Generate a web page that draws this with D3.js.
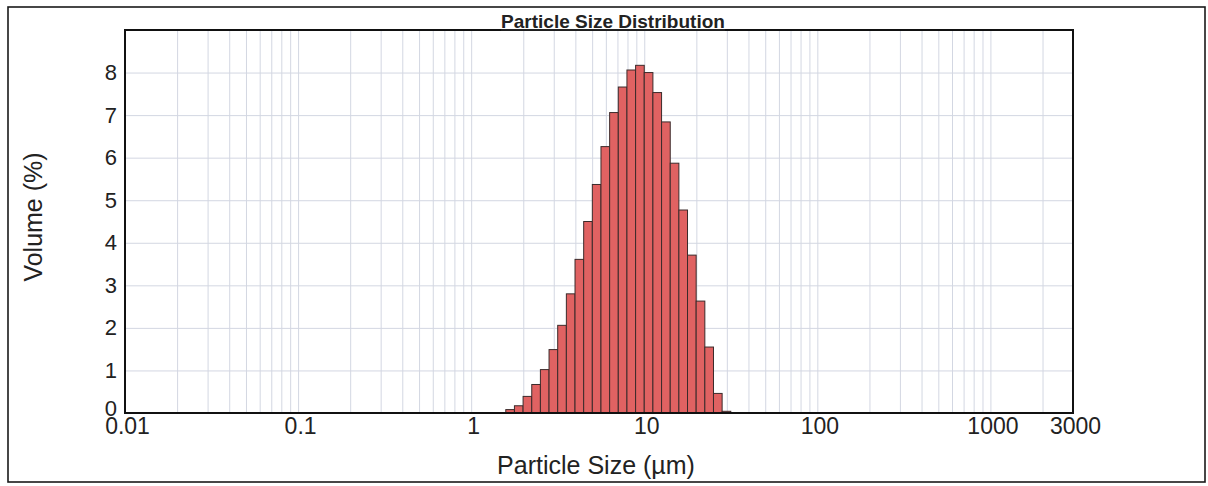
<!DOCTYPE html>
<html>
<head>
<meta charset="utf-8">
<script src="https://cdn.jsdelivr.net/npm/d3@7"></script>
<style>
    body { margin: 0; background: #ffffff; }
    svg { display: block; font-family: "Liberation Sans", Arial, sans-serif; }
</style>
</head>
<body>
<div id="chart"></div>
<script>
// bin edges (µm) and volume % per bin
const binEdges = [1.585, 1.778, 1.995, 2.239, 2.512, 2.818, 3.162, 3.548, 3.981, 4.467,
    5.012, 5.623, 6.310, 7.079, 7.943, 8.913, 10.00, 11.22, 12.59, 14.13,
    15.85, 17.78, 19.95, 22.39, 25.12, 28.18, 31.62];
const volumes = [0.08, 0.17, 0.39, 0.67, 1.02, 1.49, 2.06, 2.80, 3.61, 4.50,
    5.37, 6.26, 7.06, 7.66, 8.06, 8.17, 8.00, 7.53, 6.84, 5.87,
    4.77, 3.71, 2.63, 1.55, 0.46, 0.04];
const xTickValues = [0.01, 0.1, 1, 10, 100, 1000, 3000];
const yTickValues = [0, 1, 2, 3, 4, 5, 6, 7, 8];

const width = 1208;
const height = 486;
const plot = {left: 125, right: 1073, top: 30, bottom: 413};

let svg = d3.select("#chart")
    .append("svg")
    .attr("width", width)
    .attr("height", height);

// outer frame
svg.append("rect")
    .attr("x", 8)
    .attr("y", 7)
    .attr("width", 1197)
    .attr("height", 475)
    .attr("fill", "none")
    .attr("stroke", "#1a1a1a")
    .attr("stroke-width", 1.6);

let xScale = d3.scaleLog()
    .domain([0.01, 3000])
    .range([plot.left, plot.right]);

let yScale = d3.scaleLinear()
    .domain([0, 9])
    .range([plot.bottom, plot.top]);

// grid lines: 1..9 of each decade
let gridValues = [];
for (let d = 0.01; d < 3000; d *= 10) {
    for (let k = 1; k <= 9; k++) {
        let v = +(d * k).toPrecision(3);
        if (v > 0.01 && v < 3000) gridValues.push(v);
    }
}

svg.append("g")
    .attr("class", "grid")
    .attr("transform", "translate(0, " + plot.bottom + ")")
    .call(d3.axisBottom(xScale)
        .tickValues(gridValues)
        .tickSize(-(plot.bottom - plot.top))
        .tickFormat(""))
    .call(g => g.select(".domain").remove())
    .selectAll("line")
    .attr("stroke", "#d3d7e2")
    .attr("stroke-width", 1);

svg.append("g")
    .attr("class", "grid")
    .attr("transform", "translate(" + plot.left + ", 0)")
    .call(d3.axisLeft(yScale)
        .tickValues(yTickValues.slice(1))
        .tickSize(-(plot.right - plot.left))
        .tickFormat(""))
    .call(g => g.select(".domain").remove())
    .selectAll("line")
    .attr("stroke", "#d3d7e2")
    .attr("stroke-width", 1);

// histogram bars
svg.append("g")
    .attr("class", "histogram")
    .selectAll("rect")
    .data(volumes)
    .enter()
    .append("rect")
    .attr("x", (d, i) => xScale(binEdges[i]))
    .attr("width", (d, i) => xScale(binEdges[i + 1]) - xScale(binEdges[i]))
    .attr("y", d => yScale(d))
    .attr("height", d => yScale(0) - yScale(d))
    .attr("fill", "#e06262")
    .attr("stroke", "#3b2b2b")
    .attr("stroke-width", 1);

// axes labels
let xAxis = svg.append("g")
    .attr("transform", "translate(0, " + plot.bottom + ")")
    .call(d3.axisBottom(xScale)
        .tickValues(xTickValues)
        .tickSize(0)
        .tickPadding(5)
        .tickFormat(d => String(d)));
xAxis.select(".domain").remove();
xAxis.selectAll("text")
    .attr("font-size", 23)
    .attr("fill", "#222")
    .attr("dx", "2");

let yAxis = svg.append("g")
    .attr("transform", "translate(" + plot.left + ", 0)")
    .call(d3.axisLeft(yScale)
        .tickValues(yTickValues)
        .tickSize(0)
        .tickPadding(8));
yAxis.select(".domain").remove();
yAxis.selectAll("text")
    .attr("font-size", 22)
    .attr("fill", "#222")
    .attr("dy", (d) => d === 0 ? "0.1em" : "0.32em");

// plot frame
svg.append("rect")
    .attr("x", plot.left)
    .attr("y", plot.top)
    .attr("width", plot.right - plot.left)
    .attr("height", plot.bottom - plot.top)
    .attr("fill", "none")
    .attr("stroke", "#111")
    .attr("stroke-width", 2);

// title
svg.append("text")
    .attr("x", 613)
    .attr("y", 28)
    .attr("text-anchor", "middle")
    .attr("font-size", 19)
    .attr("font-weight", "bold")
    .attr("text-decoration", "underline")
    .attr("fill", "#222")
    .text("Particle Size Distribution");

// x axis title
svg.append("text")
    .attr("x", 596)
    .attr("y", 474)
    .attr("text-anchor", "middle")
    .attr("font-size", 25)
    .attr("fill", "#222")
    .text("Particle Size (µm)");

// y axis title
svg.append("text")
    .attr("transform", "translate(42, " + 217 + ") rotate(-90)")
    .attr("text-anchor", "middle")
    .attr("font-size", 25)
    .attr("fill", "#222")
    .text("Volume (%)");
</script>
</body>
</html>
